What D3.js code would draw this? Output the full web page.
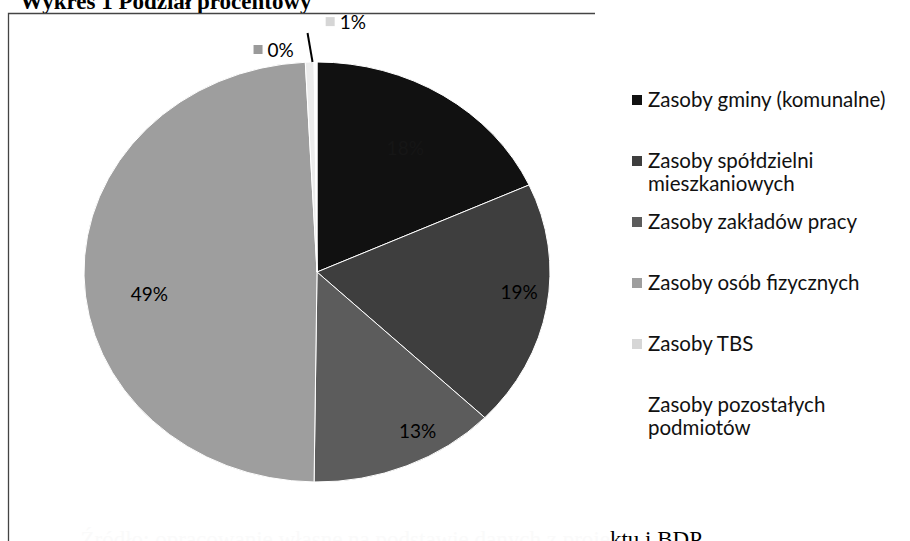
<!DOCTYPE html>
<html>
<head>
<meta charset="utf-8">
<script src="https://cdn.jsdelivr.net/npm/d3@7.9.0/dist/d3.min.js"></script>
<style>
  body { margin: 0; background: #fff; }
  svg { display: block; }
  .lbl { font-family: Lato, "Open Sans", sans-serif; font-size: 19px; fill: #000; }
  .leg { font-family: Lato, "Open Sans", sans-serif; font-size: 20.5px; fill: #111; }
  .title { font-family: "Liberation Serif", "DejaVu Serif", serif; font-weight: bold; font-size: 23px; }
  .note { font-family: "Liberation Serif", "DejaVu Serif", serif; font-size: 23px; }
</style>
</head>
<body>
<svg id="chart" width="910" height="541"></svg>
<script>
// data
const categories = [
  'Zasoby gminy (komunalne)',
  'Zasoby spółdzielni mieszkaniowych',
  'Zasoby zakładów pracy',
  'Zasoby osób fizycznych',
  'Zasoby TBS',
  'Zasoby pozostałych podmiotów'
];
const shares = [18.2, 19, 13, 49, 0.6, 0.2];
// legend lines (wrapped as in the original)
const legendLines = [
  ['Zasoby gminy (komunalne)'],
  ['Zasoby spółdzielni', 'mieszkaniowych'],
  ['Zasoby zakładów pracy'],
  ['Zasoby osób fizycznych'],
  ['Zasoby TBS'],
  ['Zasoby pozostałych', 'podmiotów']
];

const greys = ['#111111', '#3e3e3e', '#5c5c5c', '#9e9e9e', '#ececec', '#ffffff'];
const labelFill = ['#161616', '#000', '#000', '#000', '#000', '#000'];

// label placement: inside -> radius factor + nudge, outside -> offset from rim
const labelPos = [
  { f: 0.7, dx: 0, dy: 0 },
  { f: 0.88, dx: 0, dy: -11 },
  { f: 0.82, dx: 27, dy: 0 },
  { f: 0.72, dx: 0, dy: 20 },
  { out: true, dx: 48, dy: -40 },
  { out: true, dx: -30, dy: -12 }
];

const svg = d3.select('#chart');
const cx = 317, cy = 272, rx = 233, ry = 210;

svg.append('defs').append('clipPath').attr('id', 'titleClip')
  .append('rect').attr('x', 0).attr('y', 0).attr('width', 332).attr('height', 13);

// frame + cut-off caption at top
svg.append('path')
  .attr('d', 'M595,13.5H8.5V541')
  .attr('fill', 'none')
  .attr('stroke', '#444')
  .attr('stroke-width', 1.3);

svg.append('text')
  .attr('class', 'title')
  .attr('clip-path', 'url(#titleClip)')
  .attr('x', 20).attr('y', 9)
  .text('Wykres 1 Podział procentowy');

const pie = d3.pie().sort(null).value((d) => d);
const arcs = pie(shares);
const arc = d3.arc().innerRadius(0).outerRadius(ry);

const g = svg.append('g')
  .attr('transform', `translate(${cx},${cy}) scale(${rx / ry},1)`);

g.selectAll('path')
  .data(arcs)
  .join('path')
  .attr('d', arc)
  .attr('fill', (d, i) => greys[i])
  .attr('stroke', '#fff')
  .attr('stroke-width', 1)
  .attr('vector-effect', 'non-scaling-stroke');

const fmt = d3.format('.0%');
const total = d3.sum(shares);

function at(angle, f) {
  return [cx + rx * f * Math.sin(angle), cy - ry * f * Math.cos(angle)];
}

arcs.forEach((d, i) => {
  const mid = (d.startAngle + d.endAngle) / 2;
  const p = labelPos[i];
  const txt = fmt(d.value / total);
  if (!p.out) {
    const [x, y] = at(mid, p.f);
    svg.append('text')
      .attr('class', 'lbl')
      .attr('x', x + p.dx).attr('y', y + p.dy)
      .attr('dy', '0.35em')
      .attr('text-anchor', 'middle')
      .style('fill', labelFill[i])
      .text(txt);
  } else {
    const [x0, y0] = at(mid, 1);
    const tx = x0 + p.dx, ty = y0 + p.dy;
    svg.append('rect')
      .attr('x', tx - 32).attr('y', ty - 5)
      .attr('width', 9).attr('height', 9)
      .attr('fill', i === 4 ? '#d6d6d6' : '#9a9a9a');
    svg.append('text')
      .attr('class', 'lbl')
      .attr('x', tx - 18).attr('y', ty)
      .attr('dy', '0.35em')
      .text(txt);
  }
});

// leader line for the smallest slice
{
  const d = arcs[5];
  const [x0, y0] = at((d.startAngle + d.endAngle) / 2, 1);
  svg.append('line')
    .attr('x1', x0 - 3).attr('y1', y0)
    .attr('x2', x0 - 8).attr('y2', y0 - 29)
    .attr('stroke', '#000').attr('stroke-width', 2);
}

// legend
const ly = d3.scalePoint().domain(categories).range([100, 405]);
const leg = svg.append('g');
categories.forEach((c, i) => {
  const y = ly(c);
  leg.append('rect')
    .attr('x', 632).attr('y', y - 5)
    .attr('width', 10).attr('height', 10)
    .attr('fill', i === 5 ? '#fff' : greys[i] === '#ececec' ? '#d6d6d6' : greys[i]);
  const t = leg.append('text').attr('class', 'leg').attr('y', y).attr('dy', '0.35em');
  legendLines[i].forEach((line, k) => {
    t.append('tspan').attr('x', 648).attr('dy', k === 0 ? null : 23).text(line);
  });
});

// source note cut by bottom edge
svg.append('text')
  .attr('class', 'note')
  .attr('x', 702).attr('y', 547)
  .attr('text-anchor', 'end')
  .call((t) => {
    t.append('tspan').attr('fill', '#fafafa').text('Źródło: opracowanie własne na podstawie danych z proje');
    t.append('tspan').attr('fill', '#000').text('ktu i BDP');
  });
</script>
</body>
</html>
